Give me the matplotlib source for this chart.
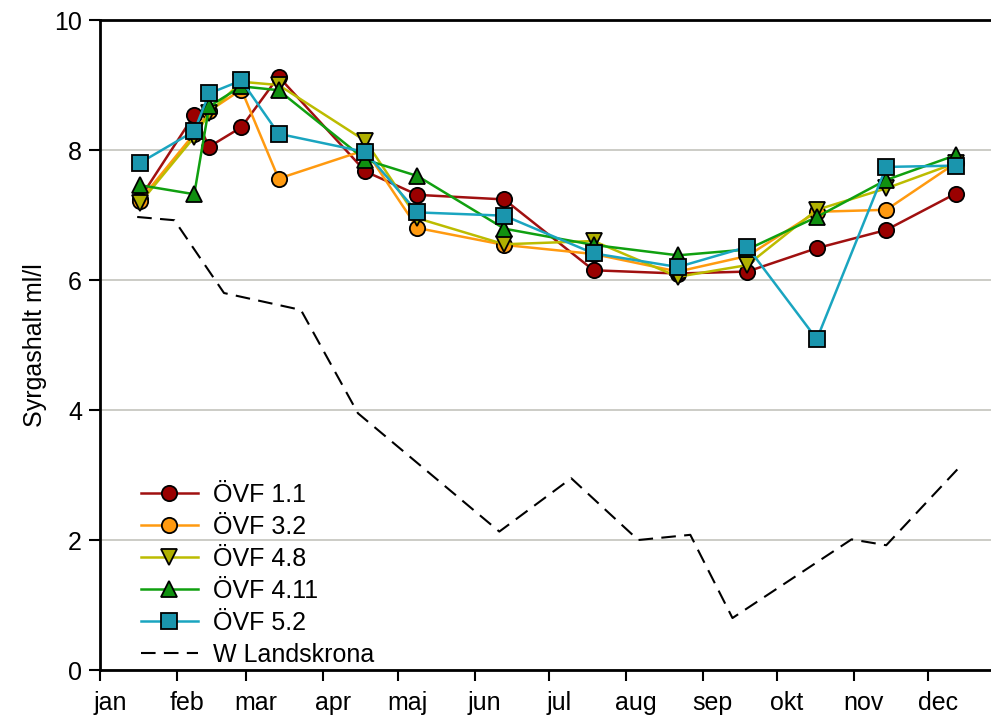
import matplotlib as mpl
mpl.use('Agg')
import matplotlib.pyplot as plt

# provtagningsdagar (dag på året)
dagar = [16, 38, 44, 57, 72, 107, 128, 163, 199, 233, 261, 289, 317, 345]

ovf_11 = [7.25, 8.54, 8.05, 8.35, 9.13, 7.67, 7.31, 7.24, 6.15, 6.10, 6.13, 6.49, 6.77, 7.33]
ovf_32 = [7.22, 8.25, 8.60, 8.93, 7.56, 8.00, 6.80, 6.54, 6.40, 6.13, 6.37, 7.05, 7.08, 7.80]
ovf_48 = [7.18, 8.20, 8.57, 9.05, 9.00, 8.14, 6.95, 6.55, 6.60, 6.05, 6.23, 7.08, 7.41, 7.80]
ovf_411 = [7.46, 7.32, 8.67, 8.98, 8.92, 7.85, 7.60, 6.79, 6.54, 6.38, 6.47, 6.97, 7.54, 7.92]
ovf_52 = [7.80, 8.29, 8.87, 9.07, 8.25, 7.97, 7.04, 6.99, 6.41, 6.20, 6.51, 5.09, 7.74, 7.76]

landskrona_dagar = [15, 30, 50, 81, 104, 161, 190, 217, 238, 255, 303, 317, 346]
landskrona = [6.97, 6.92, 5.80, 5.54, 3.95, 2.13, 2.95, 2.00, 2.08, 0.80, 2.01, 1.92, 3.10]

manader = ['jan', 'feb', 'mar', 'apr', 'maj', 'jun', 'jul', 'aug', 'sep', 'okt', 'nov', 'dec']
manad_start = [0, 31, 59, 90, 120, 151, 181, 212, 243, 273, 304, 334]

serier = [
    ('ÖVF 1.1', ovf_11, 'o', '#9a0000', '#a01010'),
    ('ÖVF 3.2', ovf_32, 'o', '#ff9a10', '#ff9a10'),
    ('ÖVF 4.8', ovf_48, 'v', '#b0b000', '#bcbc00'),
    ('ÖVF 4.11', ovf_411, '^', '#109010', '#10a010'),
    ('ÖVF 5.2', ovf_52, 's', '#1a95ad', '#1aa5c0'),
]

plt.rcParams['font.family'] = ['Liberation Sans', 'DejaVu Sans']
plt.rcParams['font.size'] = 18

fig = plt.figure(figsize=(9.91, 7.2), dpi=100)
ax = fig.add_axes([0.1009, 0.0694, 0.9203, 0.9028])

for i, (namn, varden, mark, fyll, linje) in enumerate(serier):
    ax.plot(dagar, varden, color=linje, lw=1.8, marker=mark, markersize=11,
            markerfacecolor=fyll, markeredgecolor='black', markeredgewidth=1.3,
            label=namn, zorder=3 + i)

ax.plot(landskrona_dagar, landskrona, color='black', lw=1.5, dashes=(7, 4),
        label='W Landskrona', zorder=2)

ax.set_xlim(0, 367.7)
ax.set_ylim(0, 10)
ax.set_yticks([0, 2, 4, 6, 8, 10])
ax.yaxis.grid(True, color='#c4c4bc', lw=1.2, zorder=0)
ax.set_axisbelow(True)

# månadsstreck vid månadsstart, namnen lite till höger om strecket
ax.set_xticks(manad_start)
ax.set_xticklabels([])
ax.set_xticks([d + 4 for d in manad_start], minor=True)
ax.set_xticklabels(manader, minor=True)
ax.tick_params(axis='x', which='minor', length=0, pad=15)

ax.tick_params(axis='both', which='major', direction='out', length=8, width=1.5,
               color='black')
ax.tick_params(axis='y', pad=5)

for side in ['left', 'bottom', 'top']:
    ax.spines[side].set_linewidth(2)
ax.spines['right'].set_visible(False)

ax.set_ylabel('Syrgashalt ml/l', labelpad=5)

ax.legend(loc='lower left', bbox_to_anchor=(0.02, -0.03), frameon=False,
          handlelength=2.3, handletextpad=0.6, labelspacing=0.32, fontsize=18)

fig.savefig('out.png', dpi=100)
plt.close(fig)
